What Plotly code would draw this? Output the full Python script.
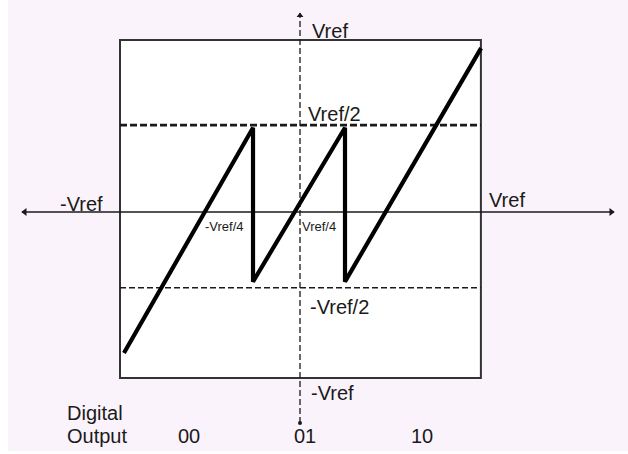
import plotly.graph_objects as go

# Residue transfer curve of a 1.5-bit pipeline stage (units of Vref)
vin = [-0.978, -0.261, -0.261, 0.25, 0.25, 1.006]
vres = [-0.82, 0.49, -0.405, 0.49, -0.405, 0.953]

# Reference levels and frame
box_x = [-1.0, 1.005]
box_y = [-0.965, 1.0]
half_pos = 0.505
half_neg = -0.44
haxis_x = [-1.544, 1.744]
vaxis_y = [-1.227, 1.157]

# Digital output codes and their x positions
codes = ["00", "01", "10"]
code_x = [-0.617, 0.028, 0.678]
code_y = -1.302

FONT = "Liberation Sans, Arial, sans-serif"
INK = "#1a1a1a"

fig = go.Figure()

# Horizontal (input) axis with arrow heads
fig.add_trace(go.Scatter(x=haxis_x, y=[0, 0], mode="lines",
                         line=dict(color=INK, width=1.5), hoverinfo="skip"))
fig.add_trace(go.Scatter(x=[haxis_x[0] + 0.015], y=[0], mode="markers",
                         marker=dict(symbol="triangle-left", size=7, color=INK),
                         hoverinfo="skip"))
fig.add_trace(go.Scatter(x=[haxis_x[1] - 0.015], y=[0], mode="markers",
                         marker=dict(symbol="triangle-right", size=7, color=INK),
                         hoverinfo="skip"))

# Vertical (output) axis, dashed, arrow on top and dot at the bottom
fig.add_trace(go.Scatter(x=[0, 0], y=vaxis_y, mode="lines",
                         line=dict(color=INK, width=1.3, dash="6px,3px"),
                         hoverinfo="skip"))
fig.add_trace(go.Scatter(x=[0], y=[vaxis_y[1] - 0.015], mode="markers",
                         marker=dict(symbol="triangle-up", size=6, color=INK),
                         hoverinfo="skip"))
fig.add_trace(go.Scatter(x=[0], y=[vaxis_y[0]], mode="markers",
                         marker=dict(symbol="circle", size=4, color=INK),
                         hoverinfo="skip"))

# +/- Vref/2 comparator levels
fig.add_trace(go.Scatter(x=box_x, y=[half_pos, half_pos], mode="lines",
                         line=dict(color=INK, width=2.6, dash="7px,3px"),
                         hoverinfo="skip"))
fig.add_trace(go.Scatter(x=box_x, y=[half_neg, half_neg], mode="lines",
                         line=dict(color=INK, width=1.6, dash="6px,3px"),
                         hoverinfo="skip"))

# Residue curve
fig.add_trace(go.Scatter(x=vin, y=vres, mode="lines",
                         line=dict(color="#000000", width=4.2),
                         hoverinfo="skip"))

labels = [
    ("Vref", 0.055, 1.055, "left", 20),
    ("Vref/2", 0.033, 0.57, "left", 20),
    ("-Vref", -1.344, 0.047, "left", 20),
    ("Vref", 1.039, 0.07, "left", 20),
    ("-Vref/4", -0.538, -0.087, "left", 13),
    ("Vref/4", 0.0, -0.087, "left", 13),
    ("-Vref/2", 0.044, -0.552, "left", 20),
    ("-Vref", 0.05, -1.052, "left", 20),
    ("Digital", -1.305, -1.168, "left", 20),
    ("Output", -1.305, -1.302, "left", 20),
]

annotations = [
    dict(x=x, y=y, text=t, showarrow=False, xanchor=xa, yanchor="middle",
         font=dict(family=FONT, size=s, color=INK))
    for t, x, y, xa, s in labels
]
annotations += [
    dict(x=cx, y=code_y, text=c, showarrow=False, xanchor="center",
         yanchor="middle", font=dict(family=FONT, size=20, color=INK))
    for c, cx in zip(codes, code_x)
]

shapes = [
    # tinted page background
    dict(type="rect", xref="paper", yref="paper", x0=8 / 628, x1=1,
         y0=3 / 454, y1=1, fillcolor="#fbf3fb", line=dict(width=0),
         layer="below"),
    # white frame of the transfer characteristic
    dict(type="rect", xref="x", yref="y", x0=box_x[0], x1=box_x[1],
         y0=box_y[0], y1=box_y[1], fillcolor="white",
         line=dict(color="#333333", width=2), layer="below"),
]

fig.update_layout(
    width=628, height=454,
    margin=dict(l=0, r=0, t=0, b=0),
    paper_bgcolor="white", plot_bgcolor="rgba(0,0,0,0)",
    showlegend=False,
    xaxis=dict(range=[-300 / 180, 328 / 180], visible=False, fixedrange=True),
    yaxis=dict(range=[(212 - 454) / 172, 212 / 172], visible=False,
               fixedrange=True),
    annotations=annotations,
    shapes=shapes,
)

fig.write_html("out.html")
